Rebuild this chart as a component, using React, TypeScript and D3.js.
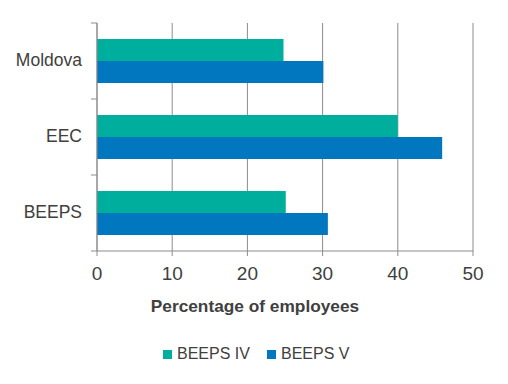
import React from 'react';
import * as d3 from 'd3';

const categories = ['Moldova', 'EEC', 'BEEPS'];
const seriesNames = ['BEEPS IV', 'BEEPS V'];
const beepsIV = [24.8, 40, 25.1];
const beepsV = [30.1, 45.9, 30.7];
const xTicks = [0, 10, 20, 30, 40, 50];
const colors = ['#00AE9E', '#0077BF'];

const width = 508;
const height = 384;
const margin = { top: 23, right: 35, bottom: 133, left: 97 };
const font = '"Liberation Sans", Arial, sans-serif';

const App = () => {
  const x = d3.scaleLinear().domain([0, 50]).range([margin.left, width - margin.right]);
  const y = d3.scaleBand<string>().domain(categories).range([margin.top, height - margin.bottom]).paddingInner(0).paddingOuter(0);
  const inner = d3.scaleBand<string>().domain(seriesNames).range([16, y.bandwidth() - 16]);
  const values = [beepsIV, beepsV];
  const plotBottom = height - margin.bottom;

  return (
    <svg width={width} height={height} style={{ position: 'absolute', left: 0, top: 0 }}>
      <rect width={width} height={height} fill="#fff" />
      {xTicks.map(t => (
        <g key={t}>
          <line x1={x(t)} x2={x(t)} y1={margin.top} y2={plotBottom + 5} stroke="#8c8c8c" strokeWidth={1} />
          <text x={x(t)} y={plotBottom + 24} textAnchor="middle" dominantBaseline="middle" fontFamily={font} fontSize={19} fill="#404040">{t}</text>
        </g>
      ))}
      <line x1={margin.left} x2={x(50)} y1={plotBottom} y2={plotBottom} stroke="#8c8c8c" />
      {categories.map(c => (
        <line key={c} x1={margin.left - 6} x2={margin.left} y1={y(c)} y2={y(c)} stroke="#8c8c8c" />
      ))}
      <line x1={margin.left - 6} x2={margin.left} y1={plotBottom} y2={plotBottom} stroke="#8c8c8c" />
      {seriesNames.map((s, si) =>
        categories.map((c, ci) => (
          <rect key={s + c} x={x(0)} y={(y(c) ?? 0) + (inner(s) ?? 0)} width={x(values[si][ci]) - x(0)} height={inner.bandwidth()} fill={colors[si]} />
        ))
      )}
      <line x1={margin.left} x2={margin.left} y1={margin.top} y2={plotBottom} stroke="#8c8c8c" />
      {categories.map(c => (
        <text key={c} x={margin.left - 15} y={(y(c) ?? 0) + y.bandwidth() / 2} textAnchor="end" dominantBaseline="middle" fontFamily={font} fontSize={17.5} fill="#404040">{c}</text>
      ))}
      <text x={255} y={307} textAnchor="middle" dominantBaseline="middle" fontFamily={font} fontSize={17.3} fontWeight="bold" fill="#404040">Percentage of employees</text>
      {seriesNames.map((s, i) => {
        const lx = [163, 267][i];
        return (
          <g key={s}>
            <rect x={lx} y={350} width={9} height={9} fill={colors[i]} />
            <text x={lx + 14} y={355} dominantBaseline="middle" fontFamily={font} fontSize={16} fill="#404040">{s}</text>
          </g>
        );
      })}
    </svg>
  );
};

export default App;
